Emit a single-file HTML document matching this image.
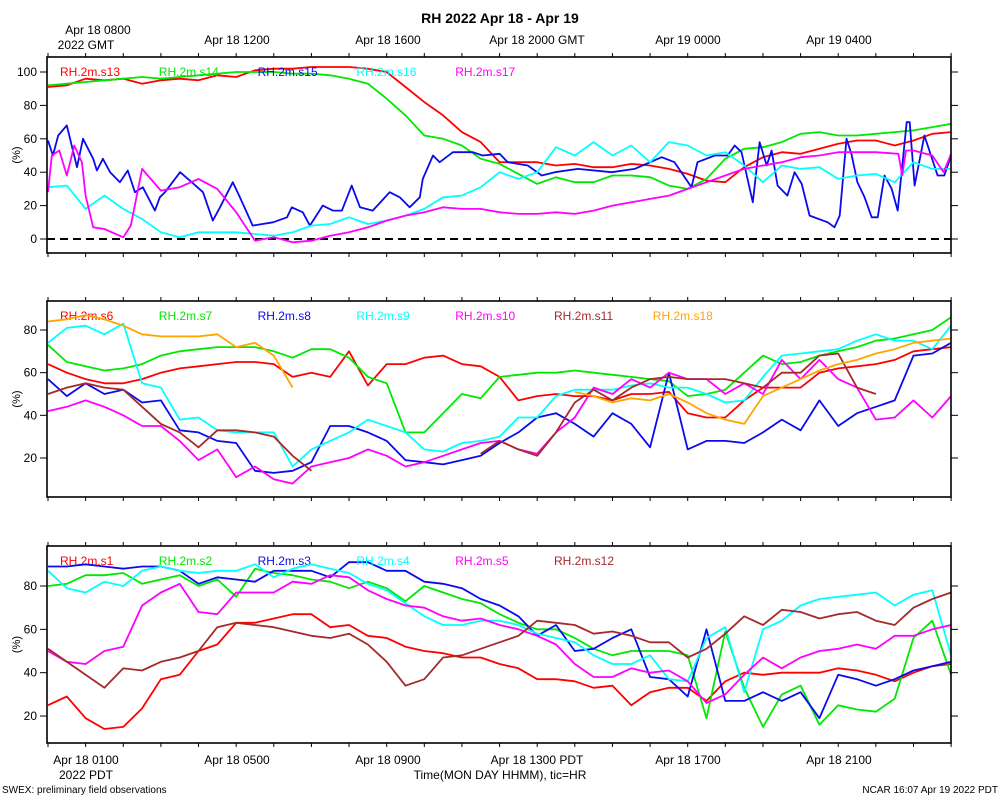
<!DOCTYPE html>
<html><head><meta charset="utf-8"><title>RH 2022 Apr 18 - Apr 19</title>
<style>
html,body{margin:0;padding:0;background:#fff;}
svg{display:block;font-family:"Liberation Sans",sans-serif;}
</style></head>
<body>
<svg id="chart" width="1000" height="800" viewBox="0 0 1000 800" xmlns="http://www.w3.org/2000/svg">
<rect x="0" y="0" width="1000" height="800" fill="#fff"/>
<text x="500" y="23" text-anchor="middle" font-size="14" font-weight="bold">RH 2022 Apr 18 - Apr 19</text>
<g font-size="12" text-anchor="middle">
<text x="98" y="34">Apr 18 0800</text><text x="86" y="49">2022 GMT</text>
<text x="237" y="44">Apr 18 1200</text><text x="388" y="44">Apr 18 1600</text>
<text x="537" y="44">Apr 18 2000 GMT</text><text x="688" y="44">Apr 19 0000</text>
<text x="839" y="44">Apr 19 0400</text>
</g>
<g font-size="12" text-anchor="middle">
<text x="86" y="764">Apr 18 0100</text><text x="86" y="779">2022 PDT</text>
<text x="237" y="764">Apr 18 0500</text><text x="388" y="764">Apr 18 0900</text>
<text x="537" y="764">Apr 18 1300 PDT</text><text x="688" y="764">Apr 18 1700</text>
<text x="839" y="764">Apr 18 2100</text>
</g>
<text x="500" y="779" text-anchor="middle" font-size="12">Time(MON DAY HHMM), tic=HR</text>
<text x="2" y="793" font-size="10">SWEX: preliminary field observations</text>
<text x="998" y="793" font-size="10" text-anchor="end">NCAR 16:07 Apr 19 2022 PDT</text>
</svg>
<script>
// ---- data (hours since Apr 18 0700 GMT; half-hour grid unless times given) ----
const hourTicks = [0,1,2,3,4,5,6,7,8,9,10,11,12,13,14,15,16,17,18,19,20,21,22,23,24];
const p1Ticks = [0,20,40,60,80,100];
const p2Ticks = [20,40,60,80];
const p3Ticks = [20,40,60,80];

const s13 = [91,92,96,95,96,93,95,96,95,98,97,101,102,102,103,103,103,102,100,91,82,74,64,58,46,46,46,44,45,43,43,45,44,42,39,35,34,43,49,52,51,54,57,59,59,56,59,63,64];
const s14 = [92,93,94,95,96,97,96,97,98,99,100,100,100,99,99,98,96,93,84,74,62,60,56,48,45,39,33,37,34,34,38,38,37,32,30,36,48,54,55,58,63,64,62,62,63,64,65,67,69];
const s15t = [0,0.13,0.27,0.5,0.77,0.93,1.2,1.3,1.46,1.65,1.91,2.12,2.31,2.52,2.84,2.97,3.11,3.51,3.82,4.12,4.38,4.57,4.91,5.1,5.44,5.98,6.35,6.48,6.77,6.96,7.3,7.57,7.81,8.07,8.29,8.63,9.08,9.35,9.61,9.88,9.96,10.23,10.41,10.76,11.29,11.55,12,12.22,12.75,13.12,13.47,14.08,14.98,15.59,16.31,16.65,17.1,17.26,17.72,18.06,18.25,18.43,18.73,18.91,19.1,19.23,19.39,19.65,19.84,20.03,20.24,20.72,20.9,21.04,21.22,21.35,21.51,21.7,21.89,22.05,22.23,22.42,22.58,22.82,22.9,23.03,23.29,23.64,23.82,24];
const s15 = [59,50,62,68,43,60,48,41,48,40,34,41,28,31,17,25,28,40,34,28,11,19,34,25,8,10,13,19,16,8,20,17,17,32,19,17,28,25,19,25,36,50,46,52,52,50,51,46,44,38,40,42,40,42,49,46,31,46,50,50,56,52,22,58,44,53,32,26,40,33,14,10,7,14,60,51,34,25,13,13,38,30,17,70,70,32,62,38,38,50];
const s16 = [31,32,18,26,18,12,4,1,4,4,4,3,2,4,8,9,13,9,11,14,18,25,26,31,40,36,40,55,50,58,50,56,46,58,56,50,52,44,34,44,42,43,36,38,39,34,46,42,42];
const s17t = [0,0.1,0.3,0.5,0.7,0.9,1,1.2,1.5,2,2.2,2.5,3,3.5,4,4.5,5,5.5,6,6.5,7,7.5,8,8.5,9,9.5,10,10.5,11,11.5,12,12.5,13,13.5,14,14.5,15,15.5,16,16.5,17,17.5,18,18.5,19,19.5,20,20.5,21,21.5,22,22.6,22.7,22.8,23,23.5,23.8,24];
const s17 = [28,50,53,38,56,46,26,7,6,1,8,42,29,31,36,30,16,-1,1,-2,-1,2,4,7,11,14,16,19,18,18,16,15,15,16,15,17,20,22,24,26,30,34,38,42,44,46,49,50,52,52,52,51,38,53,53,50,40,51];

const s6 = [64,60,57,55,55,57,60,62,63,64,65,65,64,58,60,58,70,54,64,64,67,68,64,63,58,47,49,50,49,49,47,50,50,51,41,39,39,47,53,53,53,60,62,63,64,66,70,71,72];
const s7 = [73,65,63,61,62,64,68,70,71,72,72,72,70,67,71,71,67,58,55,32,32,41,50,48,58,59,60,60,61,60,59,58,57,56,49,50,52,60,68,64,65,68,70,72,75,76,78,80,86];
const s8 = [57,49,55,50,52,46,47,33,32,28,27,14,13,14,18,35,35,32,28,19,18,17,19,21,27,32,39,41,36,30,41,36,25,60,24,28,28,27,32,38,33,47,35,41,44,47,68,69,74];
const s9 = [74,81,82,78,83,55,53,38,39,33,32,32,32,16,24,28,32,38,35,32,24,23,27,28,30,39,39,49,52,52,52,54,55,53,53,50,46,47,58,68,69,70,71,75,78,75,75,71,82];
const s10 = [42,44,47,44,40,35,35,28,19,24,11,16,10,8,16,18,20,24,21,16,18,21,24,27,28,24,22,32,39,53,50,57,53,60,57,57,50,55,50,66,57,66,57,53,38,39,47,39,49];
const s11 = [50,53,55,53,52,44,36,32,25,33,33,32,30,21,14,null,null,null,null,null,null,null,null,22,28,24,21,32,46,52,47,53,57,58,57,57,57,55,53,60,60,68,69,53,50,null,null,null,null];
const s18 = [84,85,87,85,82,78,77,77,77,78,72,74,68,53,null,null,null,null,null,null,null,null,null,null,null,null,null,null,51,49,46,48,47,50,46,41,38,36,49,53,57,61,64,66,69,71,74,75,76];

const s1 = [25,29,19,14,15,23.5,37,39,50,53,63,63,65,67,67,61,62,57,56,52,50,49,47,47,44,42,37,37,36,33,34,25,31,33,33,27,36,40,39,40,40,40,42,41,39,36,40,43,44];
const s2 = [80,81,85,85,86,81,83,85,80,83,75,88,86,85,83,82,79,82,79,73,80,77,74,72,67,63,60,60,56,51,48,50,50,50,48,19,59,33,15,30,34,16,25,23,22,28,56,64,39];
const s3 = [89,89,90,89,88,89,89,87,81,84,83,82,87,87,87,84,91,91,87,87,82,81,79,74,71,66,57,62,50,51,56,60,38,37,29,60,27,27,31,27,31,19,39,37,34,37,41,43,45];
const s4 = [87,79,77,82,80,87,89,87,86,87,87,90,84,88,90,88,86,81,78,72,66,62,62,64,64,62,58,56,54,48,44,44,48,37,36,56,61,31,60,64,71,74,75,76,77,71,76,78,48];
const s5 = [50,45,44,50,52,71,77,81,68,67,77,77,77,82,81,85,84,78,74,71,70,66,64,65,62,60,57,53,44,38,38,42,40,41,36,26,30,39,47,42,47,50,51,53,51,57,57,60,62];
const s12 = [51,45,39,33,42,41,45,47,50,61,63,62,61,59,57,56,58,53,45,34,37,47,48,51,54,57,64,63,62,58,59,57,54,54,47,51,58,66,62,69,68,65,67,68,64,62,70,74,77];

// ---- layout ----
const X0 = 48, HPX = 37.63;
const xAt = h => X0 + h * HPX;
const panels = [
  {name:'panel-top', top:57, bot:253, yv:v=>239 - v*1.67, ticks:p1Ticks, zero:true,
   series:[['RH.2m.s13',s13,null,'#ff0000'],['RH.2m.s14',s14,null,'#00e800'],['RH.2m.s15',s15,s15t,'#0a0aee'],['RH.2m.s16',s16,null,'#00ffff'],['RH.2m.s17',s17,s17t,'#ff00ff']]},
  {name:'panel-middle', top:301, bot:497, yv:v=>330 - (v-80)*2.133, ticks:p2Ticks,
   series:[['RH.2m.s6',s6,null,'#ff0000'],['RH.2m.s7',s7,null,'#00e800'],['RH.2m.s8',s8,null,'#0a0aee'],['RH.2m.s9',s9,null,'#00ffff'],['RH.2m.s10',s10,null,'#ff00ff'],['RH.2m.s11',s11,null,'#a52a2a'],['RH.2m.s18',s18,null,'#ffa500']]},
  {name:'panel-bottom', top:546, bot:743, yv:v=>586 - (v-80)*2.167, ticks:p3Ticks,
   series:[['RH.2m.s1',s1,null,'#ff0000'],['RH.2m.s2',s2,null,'#00e800'],['RH.2m.s3',s3,null,'#0a0aee'],['RH.2m.s4',s4,null,'#00ffff'],['RH.2m.s5',s5,null,'#ff00ff'],['RH.2m.s12',s12,null,'#a52a2a']]}
];
const NS = 'http://www.w3.org/2000/svg';
const svg = document.getElementById('chart');
function mk(tag, attrs, parent){
  const e = document.createElementNS(NS, tag);
  for (const k in attrs) e.setAttribute(k, attrs[k]);
  (parent||svg).appendChild(e);
  return e;
}
const L = 47, R = 951;
panels.forEach((p, pi) => {
  const g = mk('g', {});
  
  
  const clipId = 'clip' + pi;
  const cp = mk('clipPath', {id: clipId}, g);
  mk('rect', {x: L, y: p.top, width: R - L, height: p.bot - p.top}, cp);
  // y ticks + labels
  p.ticks.forEach(t => {
    const y = p.yv(t);
    const tl = mk('line', {x1: 40, x2: L, y1: y, y2: y, stroke: '#000', 'stroke-width': 1}, g);
    
    
    mk('line', {x1: R, x2: 958, y1: y, y2: y, stroke: '#000', 'stroke-width': 1}, g);
    const tx = mk('text', {x: 37, y: y + 4, 'text-anchor': 'end', 'font-size': 12}, g);
    
    
    tx.textContent = t;
  });
  const yc = (p.top + p.bot) / 2;
  const yl = mk('text', {x: 20, y: yc, 'text-anchor': 'middle', 'font-size': 11, transform: 'rotate(-90 20 ' + yc + ')'}, g);
  
  
  yl.textContent = '(%)';
  // x ticks
  hourTicks.forEach(h => {
    const x = xAt(h);
    mk('line', {x1: x, x2: x, y1: p.bot, y2: p.bot + 4, stroke: '#000', 'stroke-width': 1}, g);
    mk('line', {x1: x, x2: x, y1: p.top - 4, y2: p.top, stroke: '#000', 'stroke-width': 1}, g);
  });
  if (p.zero) {
    const z = mk('line', {x1: L, x2: R, y1: p.yv(0), y2: p.yv(0), stroke: '#000', 'stroke-width': 2, 'stroke-dasharray': '8,5'}, g);
    
    
  }
  // series
  p.series.forEach((s, si) => {
    const [label, vals, times, color] = s;
    let d = '', pen = false;
    vals.forEach((v, i) => {
      if (v === null) { pen = false; return; }
      const h = times ? times[i] : i * 0.5;
      d += (pen ? 'L' : 'M') + xAt(h).toFixed(1) + ',' + p.yv(v).toFixed(1);
      pen = true;
    });
    const path = mk('path', {d: d, fill: 'none', stroke: color, 'stroke-width': 1.8, 'stroke-linejoin': 'round', 'clip-path': 'url(#' + clipId + ')'}, g);
    
    
    const lt = mk('text', {x: 60 + si * 98.8, y: p.top + 19, 'font-size': 12, fill: color}, g);
    
    
    lt.textContent = label;
  });
  const fr = mk('rect', {x: L, y: p.top, width: R - L, height: p.bot - p.top, fill: 'none', stroke: '#000', 'stroke-width': 1.6}, g);
  
  
});
</script>
</body></html>
